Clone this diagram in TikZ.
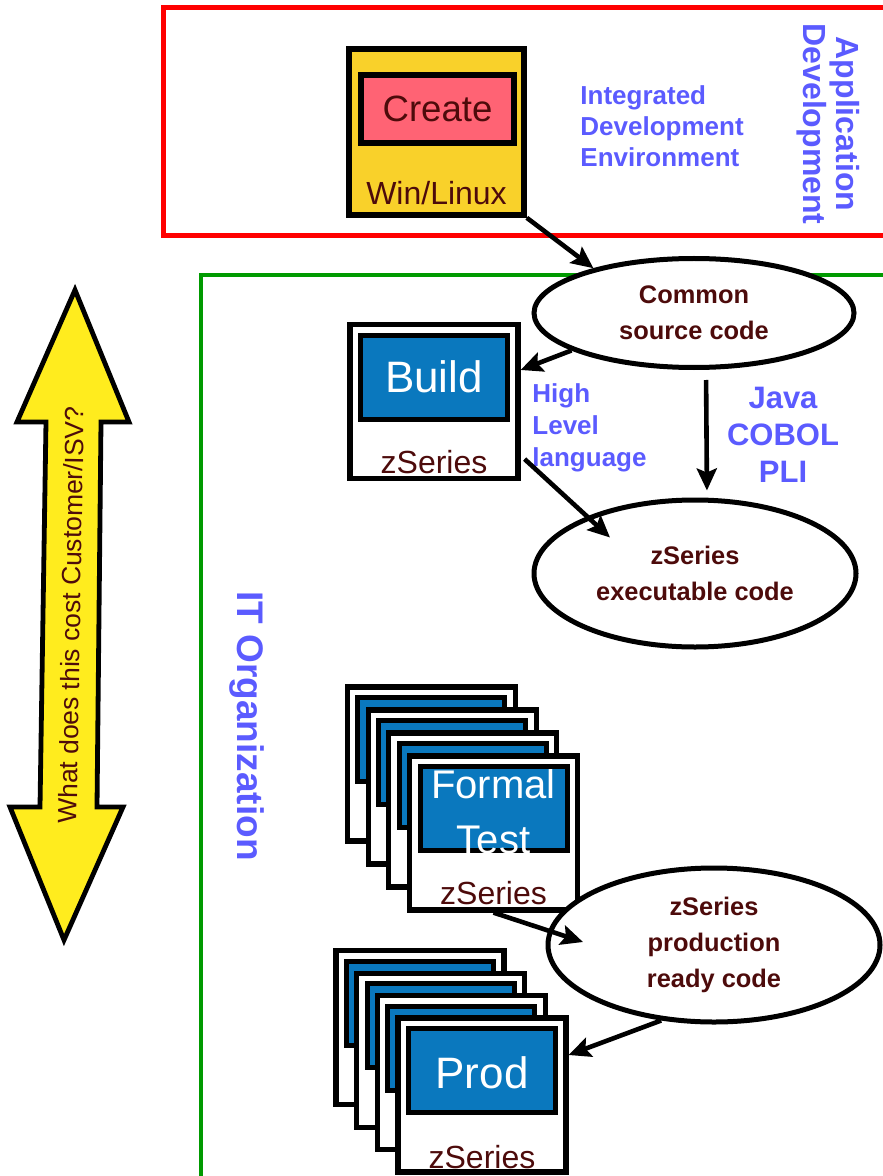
\documentclass[tikz,border=0pt]{standalone}
\usepackage{fontspec}
\setmainfont{Liberation Sans}
\usetikzlibrary{shapes.geometric,arrows.meta,positioning}
\definecolor{ideyellow}{HTML}{F9D12A}
\definecolor{createpink}{HTML}{FF6374}
\definecolor{zblue}{HTML}{0A78BE}
\definecolor{darkred}{HTML}{4D0B0B}
\definecolor{labelblue}{HTML}{5B5BFF}
\definecolor{costyellow}{HTML}{FFEC1E}
\definecolor{orggreen}{HTML}{009A00}
\tikzset{
  zbox/.style={draw, line width=2.6pt, fill=white, minimum width=84pt, minimum height=77pt, inner sep=0pt},
  zscreen/.style={draw, line width=2.5pt, fill=zblue, minimum width=73.5pt, minimum height=42pt, inner sep=0pt},
  screentext/.style={text=white, align=center, inner sep=0pt},
  ostext/.style={text=darkred, inner sep=0pt, font=\fontsize{16}{18}\selectfont},
  codeblob/.style={ellipse, draw, line width=2.5pt, fill=white, inner sep=0pt, align=center, text=darkred, font=\bfseries\fontsize{12.7}{18}\selectfont},
  bluelabel/.style={text=labelblue, inner sep=0pt},
  flow/.style={->, line width=2.3pt},
}
\begin{document}
\begin{tikzpicture}[x=0.5pt, y=-0.5pt, line join=miter, >={Stealth[length=11pt, width=10pt, inset=2pt]}]
  \useasboundingbox (0,0) rectangle (882,1176);
  % frames
  \draw[red, line width=2.5pt] (163,8) rectangle (900,236);
  \draw[orggreen, line width=2pt] (201,275) rectangle (900,1200);
  % cost arrow
  \draw[line width=2.4pt, fill=costyellow] (75,290) -- (129,422) -- (101,422) -- (97,807) -- (123,807)
    -- (64,940) -- (10,807) -- (40,807) -- (46,422) -- (17,422) -- cycle;
  \node[rotate=89, text=darkred, inner sep=0pt, font=\fontsize{13.2}{15}\selectfont] (cost) at (71,615) {What does this cost Customer/ISV?};
  % create
  \node[draw, line width=2.8pt, fill=ideyellow, minimum width=87.5pt, minimum height=83pt, inner sep=0pt] (create) at (436.5,132) {};
  \node[draw, line width=2.8pt, fill=createpink, minimum width=76.5pt, minimum height=34pt, inner sep=0pt, text=darkred, font=\fontsize{18.3}{20}\selectfont] (createscr) at (437.5,109) {Create};
  \node[ostext] (createos) at (436.5,193) {Win/Linux};
  \node[bluelabel, anchor=west, align=left, font=\bfseries\fontsize{13}{15.5}\selectfont] (ide) at (580,126) {Integrated\\Development\\Environment};
  \node[bluelabel, rotate=-90, align=center, font=\bfseries\fontsize{16}{16.5}\selectfont] (appdev) at (828,124) {Application\\Development};
  % build
  \node[zbox] (build) at (434,401.5) {};
  \node[zscreen] (buildscr) at (434,377) {};
  \node[screentext, font=\fontsize{22}{24}\selectfont] (buildtxt) at (434,377) {Build};
  \node[ostext] (buildos) at (434,462) {zSeries};
  \node[codeblob, minimum width=160pt, minimum height=54.5pt] (common) at (694,313) {Common\\source code};
  \node[codeblob, minimum width=161pt, minimum height=73.5pt] (exec) at (695,573.5) {zSeries\\executable code};
  \node[bluelabel, anchor=west, align=left, font=\bfseries\fontsize{13}{16}\selectfont] (hll) at (532,428) {High\\Level\\language};
  \node[bluelabel, align=center, font=\bfseries\fontsize{15.5}{18.5}\selectfont] (langs) at (783,435) {Java\\COBOL\\PLI};
  \node[bluelabel, rotate=-90, font=\bfseries\fontsize{18.5}{20}\selectfont] (itorg) at (247,726) {IT Organization};
  % formal test stack
  \foreach \k in {3,2,1} {
    \node[zbox] at (493.5-20.7*\k, 833-23*\k) {};
    \node[zscreen] at (493.5-20.7*\k, 808.5-23*\k) {};
  }
  \node[zbox] (ftest) at (493.5,833) {};
  \node[zscreen] (ftestscr) at (493.5,808.5) {};
  \node[screentext, font=\fontsize{20}{27.5}\selectfont] (ftesttxt) at (493.5,812) {Formal\\Test};
  \node[ostext] (ftestos) at (493.5,893) {zSeries};
  % prod stack
  \foreach \k in {3,2,1} {
    \node[zbox] at (482-20.7*\k, 1095-22.4*\k) {};
    \node[zscreen] at (482-20.7*\k, 1070.5-22.4*\k) {};
  }
  \node[zbox] (prod) at (482,1095) {};
  \node[zscreen] (prodscr) at (482,1070.5) {};
  \node[screentext, font=\fontsize{22}{24}\selectfont] (prodtxt) at (482,1073) {Prod};
  \node[ostext] (prodos) at (482,1157) {zSeries};
  \node[codeblob, minimum width=166pt, minimum height=77pt] (prodcode) at (714,945) {zSeries\\production\\ready code};
  % connectors
  \draw[flow] (create.south east) -- (common.156);
  \draw[flow] (common.197) -- (build.20);
  \draw[flow, shorten <=5pt, shorten >=3.5pt] ([xshift=6pt]common.south) -- ([xshift=6pt]exec.north);
  \draw[flow] ([xshift=2pt, yshift=11pt]build.south east) -- ([xshift=-42.5pt, yshift=18pt]exec.center);
  \draw[flow] (ftest.south) -- ([xshift=-65.5pt, yshift=1.5pt]prodcode.center);
  \draw[flow] (prodcode.235) -- ([yshift=20pt]prod.east);
\end{tikzpicture}
\end{document}
